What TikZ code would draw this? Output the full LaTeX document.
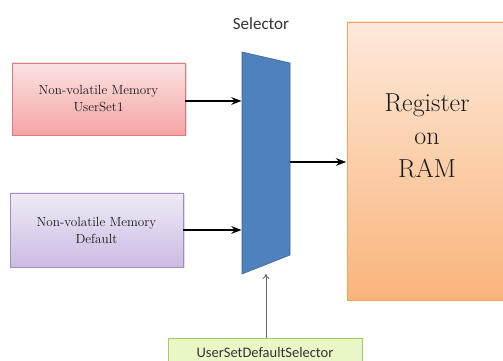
\documentclass[tikz,border=0pt]{standalone}
\usepackage{fontspec}
\newfontfamily\calibri{Carlito}
\usepackage{xcolor}
\usetikzlibrary{arrows.meta, positioning, calc, shadows}

\definecolor{memredtop}{HTML}{FBE3E3}
\definecolor{memredbot}{HTML}{F4A3A3}
\definecolor{memredline}{HTML}{E07A7A}
\definecolor{memvioltop}{HTML}{F0EAF7}
\definecolor{memviolbot}{HTML}{CBBBE2}
\definecolor{memviolline}{HTML}{A08BC4}
\definecolor{selblue}{HTML}{4F81BD}
\definecolor{selline}{HTML}{3C659A}
\definecolor{ramtop}{HTML}{FDE9DA}
\definecolor{rambot}{HTML}{FAB47A}
\definecolor{ramline}{HTML}{F5A55A}
\definecolor{swfill}{HTML}{E9F6C6}
\definecolor{swline}{HTML}{A5CC5A}

\begin{document}
\begin{tikzpicture}[x=1pt, y=1pt, >=Stealth,
            membox/.style={draw, rectangle, minimum width=173pt, line width=0.8pt, align=center,
                font=\fontsize{13.2}{17}\selectfont, text=black!90,
                drop shadow={opacity=0.25, shadow xshift=1.5pt, shadow yshift=-1.5pt}},
            flow/.style={->, line width=1.6pt, shorten >=0.5pt},
            ctrl/.style={-{To[length=5pt, width=7pt]}, line width=0.9pt, draw=gray!85!black}]

            \useasboundingbox (0,0) rectangle (503,361);

            % memories
            \node[membox, minimum height=72pt, top color=memredtop, bottom color=memredbot, draw=memredline]
                (user) at (98.5,262) {Non-volatile Memory\\UserSet1};
            \node[membox, minimum height=74pt, top color=memvioltop, bottom color=memviolbot, draw=memviolline]
                (dflt) at (96.5,131) {Non-volatile Memory\\Default};

            % selector
            \coordinate (s_lt) at (242,309); \coordinate (s_lb) at (242,87);
            \coordinate (s_rt) at (290,298); \coordinate (s_rb) at (290,106);
            \fill[selblue, draw=selline, line width=0.6pt] (s_lt) -- (s_rt) -- (s_rb) -- (s_lb) -- cycle;
            \node[font=\calibri\fontsize{17}{18}\selectfont, text=black!80] (sel) at (261,337) {Selector};
            \coordinate (in1) at (242,260); \coordinate (in2) at (242,131);
            \coordinate (out) at (290,199); \coordinate (ctl) at (266,87);

            % register
            \node[draw=ramline, line width=0.8pt, rectangle, minimum width=160pt, minimum height=278pt,
                top color=ramtop, bottom color=rambot,
                drop shadow={opacity=0.25, shadow xshift=1.5pt, shadow yshift=-1.5pt},
                label={[align=center, yshift=25pt, text=black!90, font=\fontsize{26}{33}\selectfont]center:Register\\on\\RAM}]
                (ram) at (427,200) {};

            % selector input
            \node[draw=swline, fill=swfill, line width=0.8pt, minimum width=194pt, minimum height=30pt,
                text=black!80, font=\calibri\fontsize{14.5}{16}\selectfont] (usds) at (265,8) {UserSetDefaultSelector};

            \draw[flow] (user.east |- in1) -- (in1); \draw[flow] (dflt.east |- in2) -- (in2);
            \draw[flow] (out) -- (ram.west |- out);
            \draw[ctrl] (usds.north -| ctl) -- (ctl);
        \end{tikzpicture}
\end{document}
